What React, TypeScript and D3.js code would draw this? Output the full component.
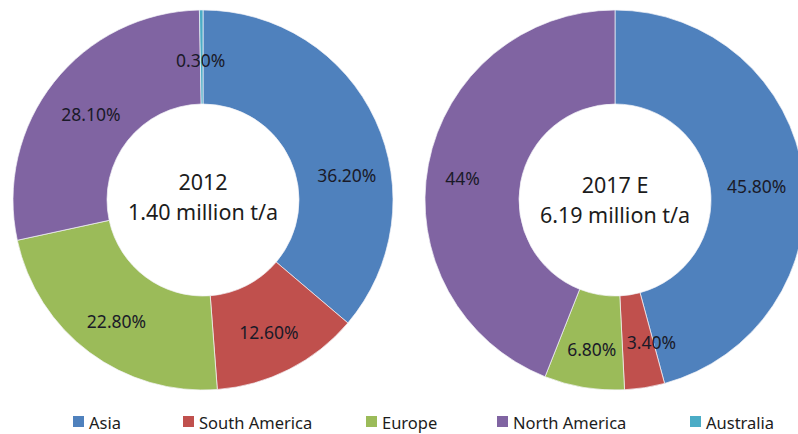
import React from "react";
import * as d3 from "d3";

const categories = ["Asia", "South America", "Europe", "North America", "Australia"];
const colors = ["#4F81BD", "#C0504D", "#9BBB59", "#8064A2", "#4BACC6"];
const values2012 = [36.2, 12.6, 22.8, 28.1, 0.3];
const values2017 = [45.8, 3.4, 6.8, 44, 0];
const labels2012 = ["36.20%", "12.60%", "22.80%", "28.10%", "0.30%"];
const labels2017 = ["45.80%", "3.40%", "6.80%", "44%", ""];
const titles2012 = ["2012", "1.40 million t/a"];
const titles2017 = ["2017 E", "6.19 million t/a"];

// layout (label nudges in px, legend x positions)
const nudge2012: [number, number][] = [[14, 35], [1, 5], [-1, 6], [0, 3], [-1, 3]];
const nudge2017: [number, number][] = [[0, 5], [14, 1], [0, 8], [-12, 5], [0, 0]];
const legendX = [73, 183, 366, 497, 690];

const W = 798, H = 434;
const R_OUT = 190, R_IN = 96, R_LABEL = 143;
const FONT = "'Noto Sans', 'Open Sans', sans-serif";

function Donut({ cx, cy, values, labels, nudges, titles, titleShift }: any) {
  const pie = d3.pie<number>().sort(null).value((d) => d);
  const arcs = pie(values);
  const arc = d3.arc<d3.PieArcDatum<number>>().innerRadius(R_IN).outerRadius(R_OUT);
  const labelArc = d3.arc<d3.PieArcDatum<number>>().innerRadius(R_LABEL).outerRadius(R_LABEL);
  return (
    <g transform={`translate(${cx},${cy})`}>
      {arcs.map((a, i) =>
        a.value > 0 ? (
          <path key={i} d={arc(a) || ""} fill={colors[i]} stroke="#f4f4f8" strokeWidth={0.7} />
        ) : null
      )}
      {arcs.map((a, i) => {
        if (!labels[i]) return null;
        const [x, y] = labelArc.centroid(a);
        return (
          <text
            key={"l" + i}
            x={x + nudges[i][0]}
            y={y + nudges[i][1]}
            textAnchor="middle"
            dominantBaseline="central"
            fontFamily={FONT}
            fontSize={17.5}
            fill="#1a1a28"
          >
            {labels[i]}
          </text>
        );
      })}
      <text x={0} y={-19 + titleShift} textAnchor="middle" dominantBaseline="central" fontFamily={FONT} fontSize={21.5} fill="#1c1c1c">
        {titles[0]}
      </text>
      <text x={0} y={11 + titleShift} textAnchor="middle" dominantBaseline="central" fontFamily={FONT} fontSize={21.5} fill="#1c1c1c">
        {titles[1]}
      </text>
    </g>
  );
}

export default function App() {
  return (
    <svg
      width={W}
      height={H}
      viewBox={`0 0 ${W} ${H}`}
      style={{ position: "absolute", left: 0, top: 0, background: "#fff" }}
    >
      <rect x={0} y={0} width={W} height={H} fill="#fff" />
      <Donut cx={203} cy={200} values={values2012} labels={labels2012} nudges={nudge2012} titles={titles2012} titleShift={0} />
      <Donut cx={615} cy={200} values={values2017} labels={labels2017} nudges={nudge2017} titles={titles2017} titleShift={3} />
      <g>
        {categories.map((c, i) => (
          <g key={c} transform={`translate(${legendX[i]},416)`}>
            <rect x={0} y={0} width={11} height={11} fill={colors[i]} />
            <text x={16} y={6} dominantBaseline="central" fontFamily={FONT} fontSize={16.5} fill="#1c1c1c">
              {c}
            </text>
          </g>
        ))}
      </g>
    </svg>
  );
}
